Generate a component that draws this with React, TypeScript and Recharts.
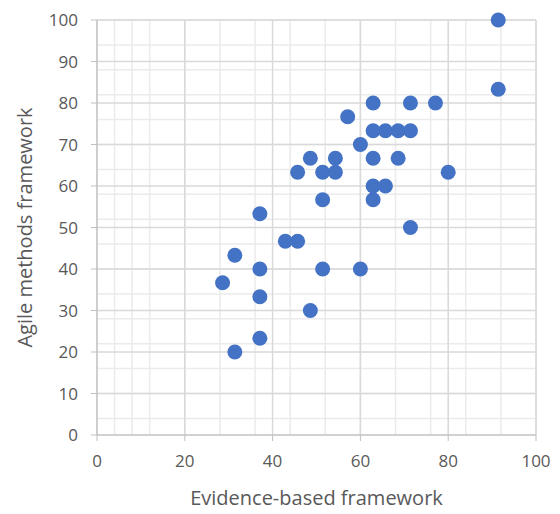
import React from "react";
import {
  ScatterChart,
  Scatter,
  XAxis,
  YAxis,
  CartesianGrid,
  Label,
} from "recharts";

const evidenceScores = [
  91.4, 91.4, 62.9, 71.4, 77.1, 57.1, 62.9, 65.7, 68.6, 71.4, 60.0, 48.6,
  54.3, 62.9, 68.6, 45.7, 51.4, 54.3, 80.0, 62.9, 65.7, 51.4, 62.9, 37.1,
  71.4, 42.9, 45.7, 31.4, 37.1, 51.4, 60.0, 28.6, 37.1, 48.6, 37.1, 31.4,
];
const agileScores = [
  100.0, 83.3, 80.0, 80.0, 80.0, 76.7, 73.3, 73.3, 73.3, 73.3, 70.0, 66.7,
  66.7, 66.7, 66.7, 63.3, 63.3, 63.3, 63.3, 60.0, 60.0, 56.7, 56.7, 53.3,
  50.0, 46.7, 46.7, 43.3, 40.0, 40.0, 40.0, 36.7, 33.3, 30.0, 23.3, 20.0,
];

const xTicks = [0, 20, 40, 60, 80, 100];
const yTicks = [0, 10, 20, 30, 40, 50, 60, 70, 80, 90, 100];
const xMinor = [0, 4, 8, 12, 16, 20, 24, 28, 32, 36, 40, 44, 48, 52, 56, 60, 64, 68, 72, 76, 80, 84, 88, 92, 96, 100];
const yMinor = [0, 2, 4, 6, 8, 10, 12, 14, 16, 18, 20, 22, 24, 26, 28, 30, 32, 34, 36, 38, 40, 42, 44, 46, 48, 50, 52, 54, 56, 58, 60, 62, 64, 66, 68, 70, 72, 74, 76, 78, 80, 82, 84, 86, 88, 90, 92, 94, 96, 98, 100];

const xTitle = "Evidence-based framework";
const yTitle = "Agile methods framework";

const data = evidenceScores.map((x, i) => ({ x, y: agileScores[i] }));

const FONT = "'Open Sans', 'Liberation Sans', sans-serif";
const TEXT = "#595959";

const Dot = (props: any) => (
  <circle cx={props.cx} cy={props.cy} r={7.5} fill="#4472C4" />
);

export default function App() {
  return (
    <div style={{ position: "absolute", left: 0, top: 0 }}>
      <ScatterChart
        width={560}
        height={514}
        margin={{ top: 20, right: 24, bottom: 0, left: 0 }}
      >
        <CartesianGrid
          stroke="#ebebeb"
          strokeWidth={1.5}
          horizontalValues={yMinor}
          verticalValues={xMinor}
        />
        <CartesianGrid stroke="#d9d9d9" strokeWidth={1.5} />
        <XAxis
          type="number"
          dataKey="x"
          domain={[0, 100]}
          ticks={xTicks}
          height={79}
          tickSize={6}
          tickMargin={14}
          stroke="#bfbfbf"
          tick={{ fill: TEXT, fontSize: 17, fontFamily: FONT }}
        >
          <Label
            content={(p: any) => {
              const vb = p.viewBox;
              return (
                <text
                  x={vb.x + vb.width / 2}
                  y={497}
                  textAnchor="middle"
                  dominantBaseline="central"
                  fill={TEXT}
                  fontSize={20}
                  fontFamily={FONT}
                >
                  {xTitle}
                </text>
              );
            }}
          />
        </XAxis>
        <YAxis
          type="number"
          dataKey="y"
          domain={[0, 100]}
          ticks={yTicks}
          width={97}
          tickSize={6}
          tickMargin={13}
          stroke="#bfbfbf"
          tick={{ fill: TEXT, fontSize: 17, fontFamily: FONT }}
        >
          <Label
            content={(p: any) => {
              const vb = p.viewBox;
              const cy = vb.y + vb.height / 2;
              return (
                <text
                  x={24}
                  y={cy}
                  transform={`rotate(-90, 24, ${cy})`}
                  textAnchor="middle"
                  dominantBaseline="central"
                  fill={TEXT}
                  fontSize={20}
                  fontFamily={FONT}
                >
                  {yTitle}
                </text>
              );
            }}
          />
        </YAxis>
        <Scatter data={data} shape={Dot} isAnimationActive={false} />
      </ScatterChart>
    </div>
  );
}
